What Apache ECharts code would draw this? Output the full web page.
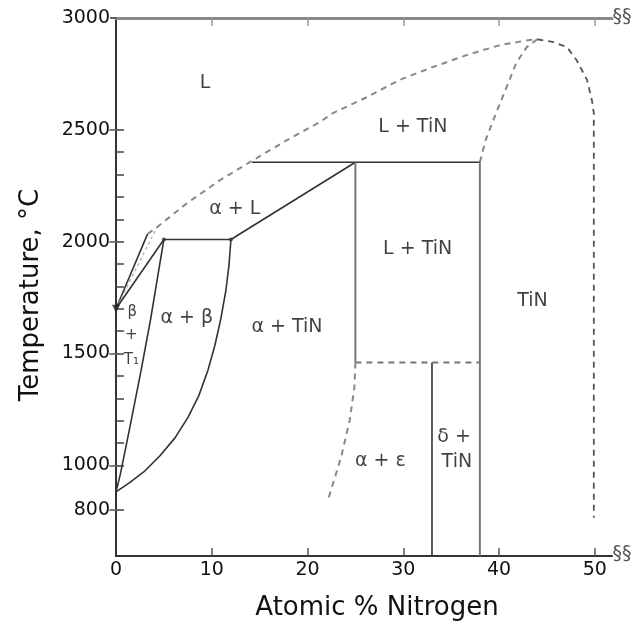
<!DOCTYPE html>
<html>
<head>
<meta charset="utf-8">
<script src="https://cdn.jsdelivr.net/npm/echarts@6/dist/echarts.min.js"></script>
<style>html,body{margin:0;padding:0;background:#fff}#c{width:636px;height:627px}</style>
</head>
<body>
<div id="c"></div>
<script>
// ---- axis values ----
var xTicks = [0, 10, 20, 30, 40, 50];
var yLabels = [800, 1000, 1500, 2000, 2500, 3000];
var yMinorTicks = [800, 1000, 1100, 1200, 1300, 1400, 1500, 1600, 1700, 1800, 1900, 2000, 2100, 2200, 2300, 2400, 2500];
var rightTicks = [800, 1000, 1500, 2000, 2500];
var xMin = 0, xMax = 51.8, yMin = 595, yMax = 3000;

// ---- phase boundaries [at.% N, T °C] ----
var liquidusBetaSolid = [[0, 1700], [3.3, 2035]];
var liquidusBetaHatch = [[0, 1700], [4.28, 2065]];
var solidusBeta = [[0, 1700], [5, 2010]];
var liquidusDashed = [[3.3, 2035], [4.28, 2065], [7.41, 2172], [10.86, 2275], [14.3, 2364], [17.85, 2454], [21.3, 2535], [22.65, 2575], [26.2, 2646], [29.6, 2723], [33.1, 2781], [36.6, 2834], [40.1, 2879], [43.2, 2902], [44, 2905]];
var tinLeft = [[38, 2355], [38.6, 2454], [39.7, 2575], [40.8, 2692], [41.8, 2799], [42.9, 2870], [44, 2905]];
var tinRight = [[44, 2905], [45.6, 2893], [47.1, 2870], [48.1, 2812], [49.2, 2722], [49.7, 2633], [49.9, 2575], [49.9, 766]];
var peritectic2355 = [[14.2, 2355], [38, 2355]];
var peritectic2010 = [[5, 2010], [12, 2010]];
var alphaLiquidus = [[12, 2010], [25, 2355]];
var vertical25 = [[25, 2355], [25, 1460]];
var eutectoid1460 = [[25, 1460], [38, 1460]];
var vertical33 = [[33, 1460], [33, 595]];
var vertical38 = [[38, 2355], [38, 595]];
var alphaEpsilon = [[25, 1460], [24.9, 1350], [24.4, 1200], [23.5, 1035], [22.1, 840]];
var betaTransus = [[5, 2010], [3.6, 1650], [2.6, 1420], [1.4, 1160], [0.45, 960], [0, 882]];
var alphaBoundary = [[0, 882], [1.46, 924], [3.03, 976], [4.59, 1043], [6.16, 1123], [7.52, 1215], [8.66, 1313], [9.6, 1425], [10.33, 1537], [10.96, 1658], [11.48, 1783], [11.8, 1895], [12, 2010]];
var meltPoint = [[0, 1700]];
var junctionPoints = [[5, 2010], [12, 2010]];

// ---- region labels [at.% N, T °C, text] ----
var regionLabels = [
  [9.3, 2709, 'L'],
  [31.0, 2512, 'L + TiN'],
  [12.4, 2145, 'α + L'],
  [31.5, 1966, 'L + TiN'],
  [43.5, 1734, 'TiN'],
  [17.85, 1617, 'α + TiN'],
  [7.4, 1658, 'α + β'],
  [27.6, 1018, 'α + ε'],
  [35.3, 1125, 'δ +'],
  [35.6, 1013, 'TiN']
];
var smallLabels = [
  [1.7, 1685, 'β'],
  [1.6, 1582, '+'],
  [1.6, 1470, 'T₁']
];

var FONT = '"DejaVu Sans", sans-serif';

function lineSeries(data, color, width, dash, smooth) {
  return {
    type: 'line', data: data, xAxisIndex: 0, yAxisIndex: 0,
    showSymbol: false, symbol: 'none', smooth: smooth || false,
    silent: true, animation: false, z: 3,
    lineStyle: { color: color, width: width, type: dash ? dash : 'solid' }
  };
}

var chart = echarts.init(document.getElementById('c'), null, { renderer: 'canvas' });
var option = {
  animation: false,
  backgroundColor: '#fff',
  grid: { left: 116, right: 24, top: 18, bottom: 71, containLabel: false },
  xAxis: [
    {
      type: 'value', position: 'bottom', min: xMin, max: xMax,
      axisLine: { show: true, onZero: false, lineStyle: { color: '#333', width: 2 } },
      axisTick: { show: true, inside: true, length: 8, customValues: xTicks.slice(1), lineStyle: { color: '#555', width: 1.5 } },
      axisLabel: { show: true, customValues: xTicks, fontSize: 19, fontFamily: FONT, color: '#111', margin: 5, formatter: function (v) { return String(v); } },
      splitLine: { show: false }
    },
    {
      type: 'value', position: 'top', min: xMin, max: xMax,
      axisLine: { show: true, onZero: false, lineStyle: { color: '#888', width: 3 } },
      axisTick: { show: true, inside: true, length: 8, customValues: xTicks.slice(1), lineStyle: { color: '#999', width: 1.5 } },
      axisLabel: { show: false },
      splitLine: { show: false }
    }
  ],
  yAxis: [
    {
      type: 'value', position: 'left', min: yMin, max: yMax,
      axisLine: { show: true, onZero: false, lineStyle: { color: '#333', width: 2 } },
      axisTick: { show: true, inside: false, length: 6, customValues: yLabels, lineStyle: { color: '#333', width: 1.5 } },
      axisLabel: { show: true, customValues: yLabels, fontSize: 19, fontFamily: FONT, color: '#111', margin: 6, formatter: function (v) { return String(v); } },
      splitLine: { show: false }
    },
    {
      type: 'value', position: 'left', min: yMin, max: yMax,
      axisLine: { show: false },
      axisTick: { show: true, inside: true, length: 8, customValues: yMinorTicks, lineStyle: { color: '#444', width: 1.5 } },
      axisLabel: { show: false },
      splitLine: { show: false }
    },
    {
      type: 'value', position: 'right', offset: 24, min: yMin, max: yMax,
      axisLine: { show: false },
      axisTick: { show: true, inside: true, length: 7, customValues: rightTicks, lineStyle: { color: '#888', width: 1.5 } },
      axisLabel: { show: false },
      splitLine: { show: false }
    }
  ],
  series: [
    lineSeries(liquidusBetaSolid, '#333', 1.6),
    lineSeries(liquidusBetaHatch, '#aaa', 1.2, [3, 3]),
    lineSeries(solidusBeta, '#333', 1.6),
    lineSeries(liquidusDashed, '#888', 2, [6, 5]),
    lineSeries(tinLeft, '#888', 2, [6, 5]),
    lineSeries(tinRight, '#555', 1.8, [6, 5]),
    lineSeries(peritectic2355, '#333', 1.6),
    lineSeries(peritectic2010, '#333', 1.6),
    lineSeries(alphaLiquidus, '#333', 1.6),
    lineSeries(vertical25, '#777', 2),
    lineSeries(eutectoid1460, '#777', 1.8, [6, 5]),
    lineSeries(vertical33, '#333', 1.6),
    lineSeries(vertical38, '#777', 2),
    lineSeries(alphaEpsilon, '#888', 2, [6, 5]),
    lineSeries(betaTransus, '#333', 1.6),
    lineSeries(alphaBoundary, '#333', 1.6),
    {
      type: 'scatter', data: meltPoint, symbol: 'triangle', symbolRotate: 180, symbolSize: 8,
      itemStyle: { color: '#222' }, silent: true, z: 4
    },
    {
      type: 'scatter', data: junctionPoints, symbol: 'circle', symbolSize: 4,
      itemStyle: { color: '#333' }, silent: true, z: 4
    },
    {
      type: 'scatter', symbolSize: 0, silent: true, z: 5,
      data: regionLabels.map(function (d) { return { value: [d[0], d[1]], name: d[2] }; }),
      label: { show: true, position: 'inside', formatter: function (p) { return p.name; }, fontSize: 19, fontFamily: FONT, color: '#111' }
    },
    {
      type: 'scatter', symbolSize: 0, silent: true, z: 5,
      data: smallLabels.map(function (d) { return { value: [d[0], d[1]], name: d[2] }; }),
      label: { show: true, position: 'inside', formatter: function (p) { return p.name; }, fontSize: 15, fontFamily: FONT, color: '#111' }
    }
  ],
  graphic: [
    {
      type: 'text', x: 31, y: 295, rotation: Math.PI / 2,
      style: { text: 'Temperature, °C', font: '26px "DejaVu Sans", sans-serif', fill: '#111', align: 'center', verticalAlign: 'middle' }
    },
    {
      type: 'text', x: 377, y: 608,
      style: { text: 'Atomic % Nitrogen', font: '26px "DejaVu Sans", sans-serif', fill: '#111', align: 'center', verticalAlign: 'middle' }
    },
    {
      type: 'text', x: 622, y: 17,
      style: { text: '§§', font: '19px "DejaVu Sans", sans-serif', fill: '#555', align: 'center', verticalAlign: 'middle' }
    },
    {
      type: 'text', x: 622, y: 554,
      style: { text: '§§', font: '19px "DejaVu Sans", sans-serif', fill: '#555', align: 'center', verticalAlign: 'middle' }
    }
  ]
};
chart.setOption(option);
</script>
</body>
</html>
